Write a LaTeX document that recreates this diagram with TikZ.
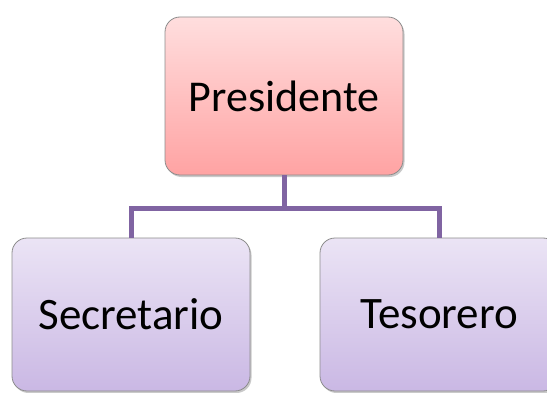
\documentclass[tikz,border=0pt]{standalone}
\usepackage{fontspec}
\setmainfont{Carlito}
\usetikzlibrary{shadows}
\definecolor{conn}{RGB}{128,100,162}
\definecolor{ptop}{RGB}{255,222,222}
\definecolor{pbot}{RGB}{255,163,163}
\definecolor{vtop}{RGB}{235,228,245}
\definecolor{vbot}{RGB}{202,184,228}
\tikzset{
  orgbox/.style={draw=black!45, line width=0.8pt, rounded corners=15pt,
    minimum width=238pt, inner sep=0pt,
    drop shadow={shadow xshift=1.5pt, shadow yshift=-2pt, opacity=0.35, fill=black!60}},
  topbox/.style={orgbox, minimum height=158pt, top color=ptop, bottom color=pbot, font=\fontsize{44}{50}\selectfont},
  subbox/.style={orgbox, minimum height=153pt, top color=vtop, bottom color=vbot, font=\fontsize{45}{52}\selectfont},
  connline/.style={draw=conn, line width=5pt}
}
\begin{document}
\begin{tikzpicture}[x=1pt,y=1pt]
\useasboundingbox (0,0) rectangle (547,392);
\fill[white] (0,0) rectangle (547,392);
\begin{scope}
\clip (0,0) rectangle (547,392);
\node[topbox] (P) at (284,296) {Presidente};
\node[subbox] (S) at (131,77.5) {Secretario};
\node[subbox] (T) at (439,77.5) {Tesorero};
\draw[connline] (P.south) -- ++(0,-33) coordinate (J) -| (S.north);
\draw[connline] (J) -| (T.north);
\end{scope}
\end{tikzpicture}
\end{document}
